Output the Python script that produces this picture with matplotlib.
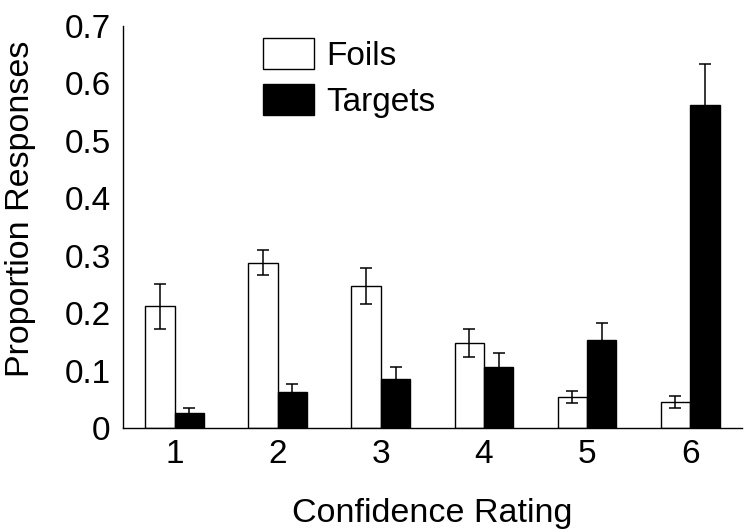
import matplotlib.pyplot as plt
import numpy as np

plt.rcParams['font.family'] = ['Liberation Sans', 'DejaVu Sans']

# Data
ratings = ['1', '2', '3', '4', '5', '6']
foils = [0.212, 0.288, 0.247, 0.148, 0.054, 0.045]
foils_err = [0.039, 0.022, 0.031, 0.025, 0.010, 0.011]
targets = [0.026, 0.063, 0.086, 0.106, 0.153, 0.563]
targets_err = [0.008, 0.013, 0.020, 0.024, 0.030, 0.070]

x = np.arange(1, len(ratings) + 1)
w = 0.285

fig = plt.figure(figsize=(7.5, 5.31), dpi=100)
ax = fig.add_axes([0.164, 0.194, 0.825, 0.757])

err_kw = dict(ecolor='black', elinewidth=1.1, capsize=4.5, capthick=1.1)
ax.bar(x - w / 2, foils, w, yerr=foils_err, color='white', edgecolor='black',
       linewidth=1.0, label='Foils', error_kw=err_kw)
ax.bar(x + w / 2, targets, w, yerr=targets_err, color='black', edgecolor='black',
       linewidth=1.0, label='Targets', error_kw=err_kw)

ax.set_xlim(0.5, 6.5)
ax.set_ylim(0, 0.7)
ax.set_xticks(x)
ax.set_xticklabels(ratings)
ax.set_yticks(np.arange(0, 0.71, 0.1))
ax.set_yticklabels(['0', '0.1', '0.2', '0.3', '0.4', '0.5', '0.6', '0.7'])
ax.tick_params(length=0, labelsize=24, pad=8)
ax.tick_params(axis='y', pad=9)
for s in ['top', 'right']:
    ax.spines[s].set_visible(False)
for s in ['left', 'bottom']:
    ax.spines[s].set_linewidth(1.0)

ax.set_xlabel('Confidence Rating', fontsize=24.5, labelpad=20)
ax.set_ylabel('Proportion Responses', fontsize=24.5, labelpad=20)
ax.yaxis.label.set_y(0.545)

ax.legend(loc='upper left', bbox_to_anchor=(263 / 750, 1 - 38 / 531),
          bbox_transform=fig.transFigure, frameon=False, fontsize=24,
          handlelength=1.53, handleheight=1.05, handletextpad=0.36,
          labelspacing=0.38, borderpad=0, borderaxespad=0)

fig.savefig('out.png', dpi=100)
